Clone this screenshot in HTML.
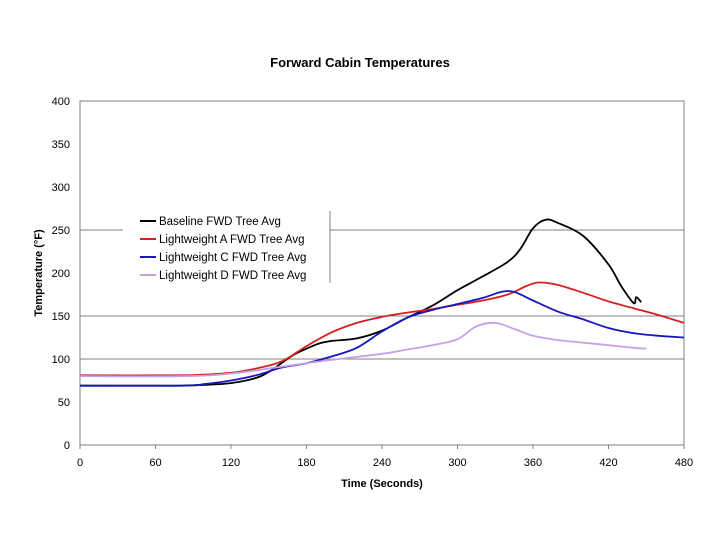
<!DOCTYPE html>
<html><head><meta charset="utf-8"><style>
body{margin:0;background:#fff;}
svg text{font-family:"Liberation Sans",Arial,sans-serif;}
</style></head><body>
<svg id="c" width="720" height="540" xmlns="http://www.w3.org/2000/svg">
<text x="360" y="67" text-anchor="middle" font-size="13" font-weight="bold">Forward Cabin Temperatures</text>
<text x="382" y="487" text-anchor="middle" font-size="11" font-weight="bold">Time (Seconds)</text>
<text transform="translate(42,273) rotate(-90)" text-anchor="middle" font-size="11" font-weight="bold">Temperature (°F)</text>
</svg>
<script>
const xTicks=[0,60,120,180,240,300,360,420,480];
const yTicks=[0,50,100,150,200,250,300,350,400];
const gridValues=[100,150,250];
const seriesNames=["Baseline FWD Tree Avg","Lightweight A FWD Tree Avg","Lightweight C FWD Tree Avg","Lightweight D FWD Tree Avg"];
const baselineT=[0,60,80,100,120,140,150,160,170,180,190,200,220,240,260,280,300,320,340,350,360,370,380,400,420,430,440,442,446];
const baselineV=[69,69,69,70,72,78,85,95,105,112,118,121,124,133,148,162,180,196,213,228,252,262,258,243,210,185,165,172,166];
const aT=[0,80,100,120,140,160,180,200,220,240,260,280,300,320,340,355,365,380,400,420,440,460,480];
const aV=[81,81,82,84,89,97,115,131,142,149,154,158,163,168,175,185,189,186,177,167,159,151,142];
const cT=[0,80,100,120,140,160,180,200,220,240,260,280,300,320,335,345,360,380,400,420,440,460,480];
const cV=[69,69,71,75,81,90,95,103,113,132,148,157,164,171,178,178,168,155,146,136,130,127,125];
const dT=[0,80,120,160,200,240,260,280,300,315,330,345,360,380,400,420,440,450];
const dV=[80,80,83,91,99,106,111,116,123,138,142,135,127,122,119,116,113,112];
const colors=["#000000","#d42020","#1818c0","#c8a0e8"];
const X0=80,X1=684,Y0=445,Y1=101;
const sx=t=>X0+t*(X1-X0)/480;
const sy=v=>Y0-v*(Y0-Y1)/400;
const svg=document.getElementById('c');
const NS="http://www.w3.org/2000/svg";
function mk(tag,attrs){const e=document.createElementNS(NS,tag);for(const k in attrs)e.setAttribute(k,attrs[k]);svg.appendChild(e);return e;}
gridValues.forEach(v=>{const g=mk('line',{x1:X0,x2:X1,y1:sy(v),y2:sy(v),stroke:'#808080','stroke-width':1});

});
const box=mk('rect',{x:X0,y:Y1,width:X1-X0,height:Y0-Y1,fill:'none',stroke:'#808080','stroke-width':1});


yTicks.forEach(v=>{const t=mk('text',{x:X0-10,y:sy(v)+4,'text-anchor':'end','font-size':11});t.textContent=v;

});
xTicks.forEach(v=>{const l=mk('line',{x1:sx(v),x2:sx(v),y1:Y0,y2:Y0+4,stroke:'#808080'});


const t=mk('text',{x:sx(v),y:Y0+21,'text-anchor':'middle','font-size':11});t.textContent=v;

});
const lg=mk('rect',{x:123,y:211,width:207,height:72,fill:'#fff'});


const lgb=mk('line',{x1:330,x2:330,y1:211,y2:283,stroke:'#808080'});


function smooth(pts){
let d='M'+pts[0][0].toFixed(1)+','+pts[0][1].toFixed(1);
for(let i=0;i<pts.length-1;i++){
const p0=pts[Math.max(0,i-1)],p1=pts[i],p2=pts[i+1],p3=pts[Math.min(pts.length-1,i+2)];
const c1x=p1[0]+(p2[0]-p0[0])/6,c1y=p1[1]+(p2[1]-p0[1])/6;
const c2x=p2[0]-(p3[0]-p1[0])/6,c2y=p2[1]-(p3[1]-p1[1])/6;
d+='C'+c1x.toFixed(1)+','+c1y.toFixed(1)+' '+c2x.toFixed(1)+','+c2y.toFixed(1)+' '+p2[0].toFixed(1)+','+p2[1].toFixed(1);}
return d;}
const series=[[baselineT,baselineV],[aT,aV],[cT,cV],[dT,dV]];
series.forEach((s,i)=>{
const pts=s[0].map((t,j)=>[sx(t),sy(s[1][j])]);
const p=mk('path',{d:smooth(pts),fill:'none',stroke:colors[i],'stroke-width':1.8,'stroke-linejoin':'round'});


const y=221+i*18;
const ls=mk('line',{x1:140,x2:156,y1:y,y2:y,stroke:colors[i],'stroke-width':2});


const lt=mk('text',{x:159,y:y+4,'font-size':11.5});lt.textContent=seriesNames[i];


});
</script>
</body></html>
